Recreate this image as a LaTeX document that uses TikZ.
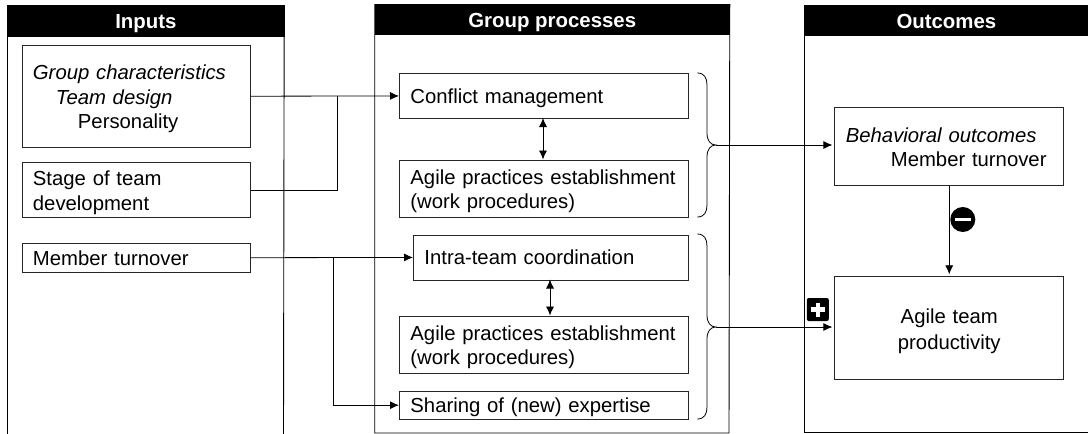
\documentclass[tikz,border=0pt]{standalone}
\usepackage{fontspec}
\setmainfont{Liberation Sans}
\usetikzlibrary{arrows.meta,calc}
\tikzset{
  x=1pt,y=-1pt,
  every node/.style={font=\fontsize{20.3}{24.5}\selectfont},
  head/.style={fill=black,text=white,draw=black,line width=0.6pt,anchor=north west,inner sep=0pt,align=center,text height=16pt,text depth=0.4pt,font=\fontsize{20.4}{22}\selectfont\bfseries},
  panel/.style={draw=black,line width=0.9pt},
  shiftdown/.style={execute at end node={\vspace*{#1}}},
  pbox/.style n args={2}{draw=black!85,line width=0.9pt,anchor=north west,inner ysep=0pt,inner xsep=11pt,align=left,
     minimum width=#1,minimum height=#2,text width=#1-22pt},
  conn/.style={draw=black,line width=0.8pt},
  arr/.style={conn,-{Latex[length=9pt,width=8pt]}},
  darr/.style={conn,{Latex[length=9pt,width=8pt]}-{Latex[length=9pt,width=8pt]}},
  brace/.style={draw=black,line width=0.8pt},
}
\begin{document}
\begin{tikzpicture}
\useasboundingbox (0,0) rectangle (1088,434);
% panels
\node[head,minimum width=276pt,minimum height=31pt] (hin) at (7.6,5) {Inputs};
\node[head,minimum width=354.5pt,minimum height=30pt] (hgp) at (374.7,4) {Group processes};
\node[head,minimum width=283.8pt,minimum height=30pt] (hout) at (804.2,5) {Outcomes};
\coordinate (inbl) at (7.6,434);
\coordinate (inbr) at (283.5,434);
\coordinate (gpbl) at (374.7,433);
\coordinate (gpbr) at (729,433);
\coordinate (outbl) at (804.2,432);
\coordinate (outbr) at (1088,432);
\draw[panel] (hin.north west) -- (inbl);
\draw[panel] (hin.north east) -- (inbr);
\draw[panel] (hgp.north west) -- (gpbl) -- (gpbr) -- (hgp.north east);
\draw[panel] (hout.north west) -- (outbl) -- (outbr);
% input boxes
\node[pbox={228.3pt}{102.5pt},shiftdown=-6pt] (gc) at (21.5,44.5) {\textit{Group characteristics}\\\hspace*{23pt}\textit{Team design}\\\hspace*{45pt}Personality};
\node[pbox={228.3pt}{55pt},shiftdown=-6pt] (st) at (21.5,162) {Stage of team\\development};
\node[pbox={228.3pt}{28.5pt},shiftdown=-6pt] (mt) at (21.5,243) {Member turnover};
% process boxes
\node[pbox={289.3pt}{45pt},shiftdown=-6pt] (cm) at (399,73) {Conflict management};
\node[pbox={289.3pt}{57pt},shiftdown=-6pt] (ap1) at (399,159.5) {Agile practices establishment\\(work procedures)};
\node[pbox={275.3pt}{45pt},shiftdown=-6pt] (it) at (413,234.5) {Intra-team coordination};
\node[pbox={289.3pt}{57pt},shiftdown=-6pt] (ap2) at (399,315.5) {Agile practices establishment\\(work procedures)};
\node[pbox={289.3pt}{28.5pt},shiftdown=-6pt] (sh) at (399,390.5) {Sharing of (new) expertise};
% outcome boxes
\node[pbox={228.8pt}{78.5pt},shiftdown=-2pt] (bo) at (834.4,106.5) {\textit{Behavioral outcomes}\\\hspace*{45pt}Member turnover};
\node[pbox={228.8pt}{103pt},align=center,shiftdown=-6pt,font=\fontsize{20.3}{26}\selectfont] (pr) at (834.4,276.3) {Agile team\\productivity};
% braces
\coordinate (b1t) at (697.4,73);
\coordinate (b1m) at (715.8,145);
\coordinate (b1b) at (697.4,217);
\coordinate (b2t) at (697.4,234);
\coordinate (b2m) at (715.8,327);
\coordinate (b2b) at (697.4,419);
\draw[brace] (b1t) .. controls ($(b1t)+(7,0)$) and ($(b1t)+(9.6,5)$) .. ($(b1t)+(9.6,12)$)
  -- ($(b1m)+(-8.8,-12)$) .. controls ($(b1m)+(-8.8,-4)$) and ($(b1m)+(-5,0)$) .. (b1m)
  .. controls ($(b1m)+(-5,0)$) and ($(b1m)+(-8.8,4)$) .. ($(b1m)+(-8.8,12)$)
  -- ($(b1b)+(9.6,-12)$) .. controls ($(b1b)+(9.6,-5)$) and ($(b1b)+(7,0)$) .. (b1b);
\draw[brace] (b2t) .. controls ($(b2t)+(7,0)$) and ($(b2t)+(9.6,5)$) .. ($(b2t)+(9.6,12)$)
  -- ($(b2m)+(-8.8,-12)$) .. controls ($(b2m)+(-8.8,-4)$) and ($(b2m)+(-5,0)$) .. (b2m)
  .. controls ($(b2m)+(-5,0)$) and ($(b2m)+(-8.8,4)$) .. ($(b2m)+(-8.8,12)$)
  -- ($(b2b)+(9.6,-12)$) .. controls ($(b2b)+(9.6,-5)$) and ($(b2b)+(7,0)$) .. (b2b);
% connectors
\draw[arr] (gc.east) -- (cm.west);
\coordinate (j1) at (337.3,95.5);
\draw[conn] (st.east) -| (j1);
\draw[arr] (mt.east) -- (it.west);
\coordinate (j2) at (333.5,257);
\draw[arr] (j2) |- (sh.west);
\coordinate (d1t) at (543,118);
\coordinate (d1b) at (543,159.5);
\draw[darr] (d1t) -- (d1b);
\coordinate (d2t) at (550,279.5);
\coordinate (d2b) at (550,315.5);
\draw[darr] (d2t) -- (d2b);
\draw[arr] (b1m) -- ($(bo.west |- b1m)+(-2,0)$);
\draw[arr] (b2m) -- ($(pr.west |- b2m)+(-2,0)$);
\draw[arr] (bo.south) -- ($(pr.north)+(0,-2)$);
% signs
\node[circle,fill=black,minimum size=25pt,inner sep=0pt] (minus) at (962.8,219.5) {};
\draw[white,line width=3.5pt] ($(minus.center)+(-8,0)$) -- ($(minus.center)+(8,0)$);
\node[fill=black,rounded corners=2pt,minimum width=22pt,minimum height=23pt,inner sep=0pt] (plus) at (817.8,309.5) {};
\draw[white,line width=4.5pt] ($(plus.center)+(-7,0)$) -- ($(plus.center)+(7,0)$);
\draw[white,line width=4.5pt] ($(plus.center)+(0,-7)$) -- ($(plus.center)+(0,7)$);
\end{tikzpicture}
\end{document}
